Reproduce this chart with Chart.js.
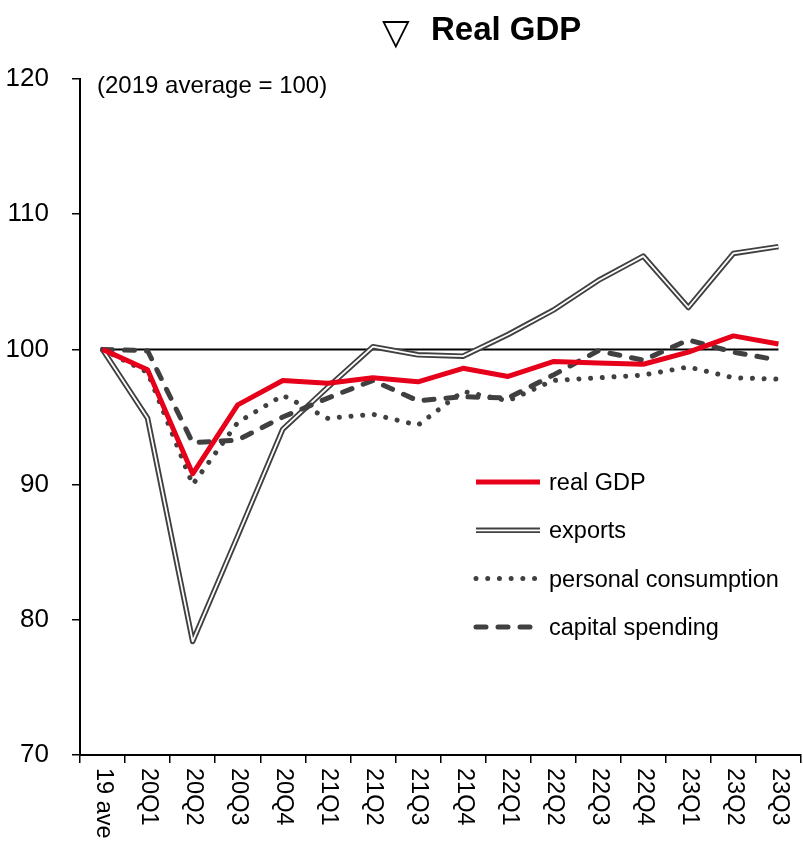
<!DOCTYPE html>
<html>
<head>
<meta charset="utf-8">
<script src="https://cdn.jsdelivr.net/npm/chart.js@4.4.0/dist/chart.umd.min.js"></script>
<style>
  body { margin: 0; background: #fff; }
  canvas { display: block; }
</style>
</head>
<body>
<canvas id="gdpChart" width="803" height="842"></canvas>
<script>
// Quarters along the x axis
const labels = ['19 ave', '20Q1', '20Q2', '20Q3', '20Q4', '21Q1', '21Q2', '21Q3',
                '21Q4', '22Q1', '22Q2', '22Q3', '22Q4', '23Q1', '23Q2', '23Q3'];

// Index values, 2019 average = 100
const realGdp     = [100, 98.5, 90.8, 95.9, 97.7, 97.5, 97.9, 97.6, 98.6, 98.0, 99.1, 99.0, 98.9, 99.8, 101.0, 100.4];
const exportsData = [100, 94.9, 78.4, 86.2, 94.1, 97.2, 100.2, 99.6, 99.5, 101.1, 102.9, 105.1, 106.9, 103.1, 107.1, 107.6];
const consumption = [100, 98.3, 90.0, 94.6, 96.6, 94.9, 95.2, 94.4, 96.9, 96.2, 97.7, 97.9, 98.1, 98.7, 97.9, 97.8];
const capex       = [100, 99.9, 93.1, 93.3, 95.0, 96.4, 97.7, 96.2, 96.5, 96.4, 98.1, 99.9, 99.2, 100.7, 99.8, 99.2];
const baseLevel   = [100, 100, 100, 100, 100, 100, 100, 100, 100, 100, 100, 100, 100, 100, 100, 100];

// Axis ticks
const yTicks = [70, 80, 90, 100, 110, 120];

const FONT = '"Liberation Sans", Arial, sans-serif';
const DARK = '#404040';
const RED = '#e60019';

// Rotated quarter labels under the x axis
const xLabels = {
    id: 'xLabels',
    afterDraw(chart) {
        const ctx = chart.ctx;
        const x = chart.scales.x;
        ctx.save();
        ctx.font = '23.5px ' + FONT;
        ctx.fillStyle = '#000';
        ctx.textAlign = 'left';
        ctx.textBaseline = 'middle';
        labels.forEach((lab, i) => {
            ctx.save();
            ctx.translate(x.getPixelForTick(i) + 1, x.top + 13);
            ctx.rotate(Math.PI / 2);
            ctx.fillText(lab, 0, 0);
            ctx.restore();
        });
        ctx.restore();
    }
};

// Title and the index note
const headings = {
    id: 'headings',
    afterDraw(chart) {
        const ctx = chart.ctx;
        ctx.save();
        ctx.fillStyle = '#000';
        ctx.textAlign = 'left';
        ctx.textBaseline = 'alphabetic';
        ctx.font = '36px "DejaVu Sans", sans-serif';
        ctx.fillText('\u25BD', 382, 44);
        ctx.font = 'bold 33px ' + FONT;
        ctx.fillText('Real GDP', 431, 40);
        ctx.font = '24px ' + FONT;
        ctx.fillText('(2019 average = 100)', 97, 93);
        ctx.restore();
    }
};

// Legend drawn inside the plot area
const innerLegend = {
    id: 'innerLegend',
    afterDraw(chart) {
        const ctx = chart.ctx;
        const rows = chart.data.datasets.filter(d => d.inLegend);
        ctx.save();
        ctx.font = '23.5px ' + FONT;
        ctx.textAlign = 'left';
        ctx.textBaseline = 'alphabetic';
        rows.forEach((d, i) => {
            const base = 490 + i * 48.3;
            const ly = base - 8;
            ctx.save();
            ctx.strokeStyle = d.borderColor;
            ctx.lineWidth = d.borderWidth;
            ctx.lineCap = d.borderCapStyle || 'butt';
            ctx.setLineDash(d.borderDash || []);
            ctx.beginPath();
            ctx.moveTo(476, ly);
            ctx.lineTo(540, ly);
            ctx.stroke();
            if (d.innerWidth) {
                ctx.strokeStyle = '#fff';
                ctx.lineWidth = d.innerWidth;
                ctx.beginPath();
                ctx.moveTo(476, ly);
                ctx.lineTo(540, ly);
                ctx.stroke();
            }
            ctx.restore();
            ctx.fillStyle = '#000';
            ctx.fillText(d.label, 549, base);
        });
        ctx.restore();
    }
};

const ctx = document.getElementById('gdpChart').getContext('2d');
const gdpChart = new Chart(ctx, {
    type: 'line',
    data: {
        labels: labels,
        datasets: [
            {
                label: 'real GDP',
                data: realGdp,
                borderColor: RED,
                borderWidth: 5,
                inLegend: true,
                order: 1
            },
            {
                label: 'exports',
                data: exportsData,
                borderColor: DARK,
                borderWidth: 5.5,
                innerWidth: 1.8,
                inLegend: true,
                order: 5
            },
            {
                label: 'personal consumption',
                data: consumption,
                borderColor: DARK,
                borderWidth: 5,
                borderDash: [0.01, 11.7],
                borderCapStyle: 'round',
                inLegend: true,
                order: 3
            },
            {
                label: 'capital spending',
                data: capex,
                borderColor: DARK,
                borderWidth: 5,
                borderDash: [10, 12],
                borderCapStyle: 'round',
                inLegend: true,
                order: 2
            },
            {
                // white core of the double export line
                label: 'exports core',
                data: exportsData,
                borderColor: '#fff',
                borderWidth: 1.8,
                order: 4
            },
            {
                label: 'base',
                data: baseLevel,
                borderColor: '#000',
                borderWidth: 2,
                order: 6
            }
        ]
    },
    options: {
        responsive: false,
        devicePixelRatio: 1,
        animation: false,
        layout: { padding: { top: 79, right: 2, bottom: 0, left: 0 } },
        elements: {
            point: { radius: 0, hoverRadius: 0 },
            line: { tension: 0, borderJoinStyle: 'round', fill: false }
        },
        scales: {
            x: {
                offset: true,
                grid: {
                    offset: true,
                    drawOnChartArea: false,
                    drawTicks: true,
                    tickLength: 8,
                    color: '#000',
                    lineWidth: 1.5
                },
                border: { color: '#000', width: 2 },
                ticks: { display: false },
                afterFit(scale) { scale.height = 87; }
            },
            y: {
                min: 70,
                max: 120,
                afterBuildTicks(scale) { scale.ticks = yTicks.map(v => ({ value: v })); },
                grid: {
                    drawOnChartArea: false,
                    drawTicks: true,
                    tickLength: 8,
                    color: '#000',
                    lineWidth: 1.5
                },
                border: { color: '#000', width: 2 },
                ticks: {
                    color: '#000',
                    padding: 23,
                    font: { family: FONT, size: 26 }
                },
                afterFit(scale) { scale.width = 80; }
            }
        },
        plugins: {
            legend: { display: false },
            tooltip: { enabled: false },
            title: { display: false }
        }
    },
    plugins: [xLabels, headings, innerLegend]
});
</script>
</body>
</html>
